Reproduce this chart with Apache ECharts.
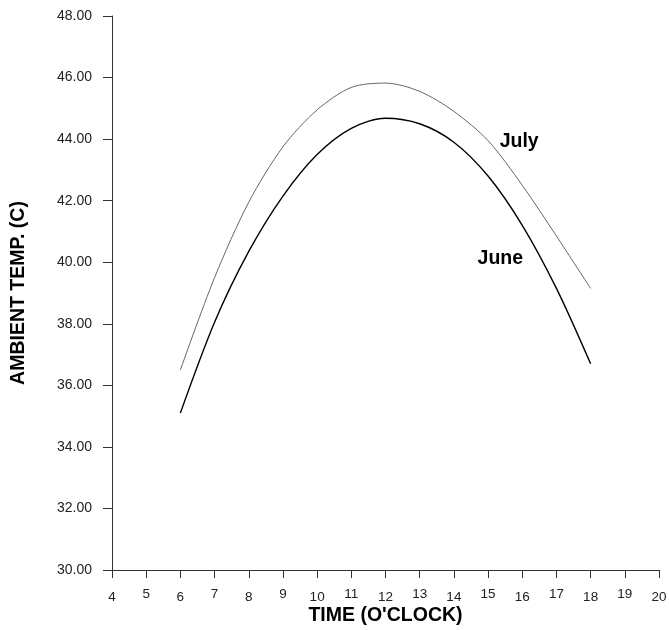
<!DOCTYPE html>
<html>
<head>
<meta charset="utf-8">
<title>Ambient temperature</title>
<script src="https://cdn.jsdelivr.net/npm/echarts@6/dist/echarts.min.js"></script>
<style>
  html, body { margin: 0; padding: 0; background: #fff; }
  #chart { width: 669px; height: 630px; }
</style>
</head>
<body>
<div id="chart"></div>
<script>
// hours of the day
var hours = [6, 7, 8, 9, 10, 11, 12, 13, 14, 15, 16, 17, 18];
// ambient temperature (C)
var june = [35.1, 38.05, 40.35, 42.15, 43.5, 44.35, 44.68, 44.5, 43.9, 42.8, 41.2, 39.15, 36.7];
var july = [36.5, 39.5, 41.95, 43.75, 44.95, 45.68, 45.82, 45.55, 44.9, 43.95, 42.5, 40.85, 39.15];
// where the month names sit, in chart units
var juneLabelAt = [15.36, 40.13];
var julyLabelAt = [15.91, 43.93];

function pairs(xs, ys) {
  return xs.map(function (x, i) { return [x, ys[i]]; });
}

var chart = echarts.init(document.getElementById('chart'));

var option = {
  animation: false,
  backgroundColor: '#fff',
  textStyle: { fontFamily: 'Liberation Sans, Arial, sans-serif' },
  grid: { left: 112, right: 10, top: 16, bottom: 60, outerBoundsMode: 'none', containLabel: false },
  xAxis: {
    type: 'value',
    min: 4,
    max: 20,
    interval: 1,
    name: "TIME (O'CLOCK)",
    nameLocation: 'middle',
    nameGap: 36,
    nameMoveOverlap: false,
    nameTextStyle: { fontSize: 19.5, fontWeight: 'bold', color: '#000' },
    splitLine: { show: false },
    axisLine: { onZero: false, lineStyle: { color: '#333', width: 1 } },
    axisTick: { length: 8, lineStyle: { color: '#333' } },
    axisLabel: {
      margin: 16,
      color: '#222',
      fontSize: 13.5,
      // odd hours sit a little higher than even ones
      formatter: function (v) {
        return (v % 2 === 0 ? '{e|' : '{o|') + v + '}';
      },
      rich: {
        e: { lineHeight: 22, fontSize: 13.5, color: '#222' },
        o: { lineHeight: 16, fontSize: 13.5, color: '#222' }
      }
    }
  },
  yAxis: {
    type: 'value',
    min: 30,
    max: 48,
    interval: 2,
    name: 'AMBIENT TEMP. (C)',
    nameLocation: 'middle',
    nameGap: 83,
    nameRotate: 90,
    nameTextStyle: { fontSize: 19.5, fontWeight: 'bold', color: '#000' },
    splitLine: { show: false },
    axisLine: { show: true, onZero: false, lineStyle: { color: '#333', width: 1 } },
    axisTick: { show: true, length: 9, lineStyle: { color: '#333' } },
    axisLabel: {
      margin: 20,
      color: '#222',
      fontSize: 14,
      formatter: function (v) { return v.toFixed(2); }
    }
  },
  series: [
    {
      name: 'July',
      type: 'line',
      smooth: 0.3,
      showSymbol: false,
      lineStyle: { color: '#666', width: 1 },
      data: pairs(hours, july),
      markPoint: {
        symbol: 'circle',
        symbolSize: 0,
        label: { show: true, formatter: 'July', fontSize: 19.5, fontWeight: 'bold', color: '#000', position: 'inside' },
        data: [{ coord: julyLabelAt }]
      }
    },
    {
      name: 'June',
      type: 'line',
      smooth: 0.3,
      showSymbol: false,
      lineStyle: { color: '#000', width: 1.4 },
      data: pairs(hours, june),
      markPoint: {
        symbol: 'circle',
        symbolSize: 0,
        label: { show: true, formatter: 'June', fontSize: 19.5, fontWeight: 'bold', color: '#000', position: 'inside' },
        data: [{ coord: juneLabelAt }]
      }
    }
  ]
};

chart.setOption(option);
</script>
</body>
</html>
